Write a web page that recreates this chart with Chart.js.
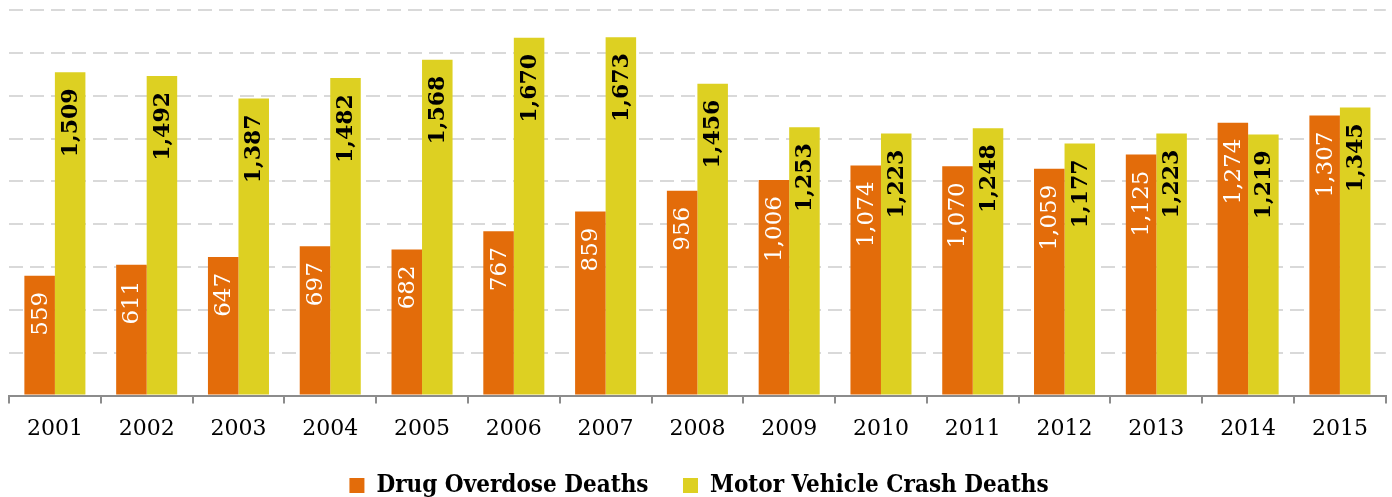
<!DOCTYPE html>
<html>
<head>
<meta charset="utf-8">
<script src="https://cdn.jsdelivr.net/npm/chart.js@4"></script>
<style>
html,body{margin:0;padding:0;background:#fff;}
#wrap{width:1392px;height:497px;position:relative;}
</style>
</head>
<body>
<div id="wrap"><canvas id="c" width="1392" height="497"></canvas></div>
<script>
const years = ['2001','2002','2003','2004','2005','2006','2007','2008','2009','2010','2011','2012','2013','2014','2015'];
const drugOverdose = [559,611,647,697,682,767,859,956,1006,1074,1070,1059,1125,1274,1307];
const motorVehicle = [1509,1492,1387,1482,1568,1670,1673,1456,1253,1223,1248,1177,1223,1219,1345];
const seriesNames = ['Drug Overdose Deaths','Motor Vehicle Crash Deaths'];
const yMax = 1800;
const yStep = 200;

const labelPlugin = {
  id: 'barLabels',
  afterDatasetsDraw(chart) {
    const ctx = chart.ctx;
    chart.data.datasets.forEach((ds, di) => {
      const meta = chart.getDatasetMeta(di);
      meta.data.forEach((bar, i) => {
        const v = ds.data[i];
        const txt = v.toLocaleString('en-US');
        ctx.save();
        ctx.translate(bar.x, bar.y + 16);
        ctx.rotate(-Math.PI / 2);
        ctx.textAlign = 'right';
        ctx.textBaseline = 'middle';
        ctx.fillStyle = di === 0 ? '#ffffff' : '#000000';
        ctx.font = (di === 0 ? '23px' : 'bold 22px') + ' "DejaVu Serif"';
        ctx.fillText(txt, 0, 1);
        ctx.restore();
      });
    });
  }
};

new Chart(document.getElementById('c'), {
  type: 'bar',
  data: {
    labels: years,
    datasets: [
      { label: seriesNames[0], data: drugOverdose, backgroundColor: '#E36C0A', borderWidth: 0,
        categoryPercentage: 0.665, barPercentage: 1.0 },
      { label: seriesNames[1], data: motorVehicle, backgroundColor: '#DDD022', borderWidth: 0,
        categoryPercentage: 0.665, barPercentage: 1.0 }
    ]
  },
  options: {
    responsive: false,
    animation: false,
    layout: { padding: { left: 9, right: 3, top: 10, bottom: -10.5 } },
    plugins: {
      tooltip: { enabled: false },
      legend: {
        position: 'bottom',
        labels: {
          boxWidth: 15,
          boxHeight: 15,
          padding: 34.5,
          color: '#000',
          font: { family: '"DejaVu Serif Condensed", "DejaVu Serif"', weight: 'bold', size: 24 }
        }
      }
    },
    scales: {
      x: {
        grid: { display: true, offset: true, drawOnChartArea: false, drawTicks: true, tickLength: 8, color: '#8c8c8c', lineWidth: 2 },
        border: { display: true, color: '#8c8c8c', width: 2 },
        ticks: { color: '#000', padding: 24, font: { family: '"DejaVu Serif"', size: 22, lineHeight: 0.2 } },
        afterFit: (scale) => { scale.height = 43.5; }
      },
      y: {
        min: 0,
        max: yMax,
        ticks: { display: false, stepSize: yStep },
        border: { display: false, dash: [14, 7] },
        grid: { color: '#d9d9d9', lineWidth: 2, drawTicks: false }
      }
    }
  },
  plugins: [labelPlugin]
});
</script>
</body>
</html>
